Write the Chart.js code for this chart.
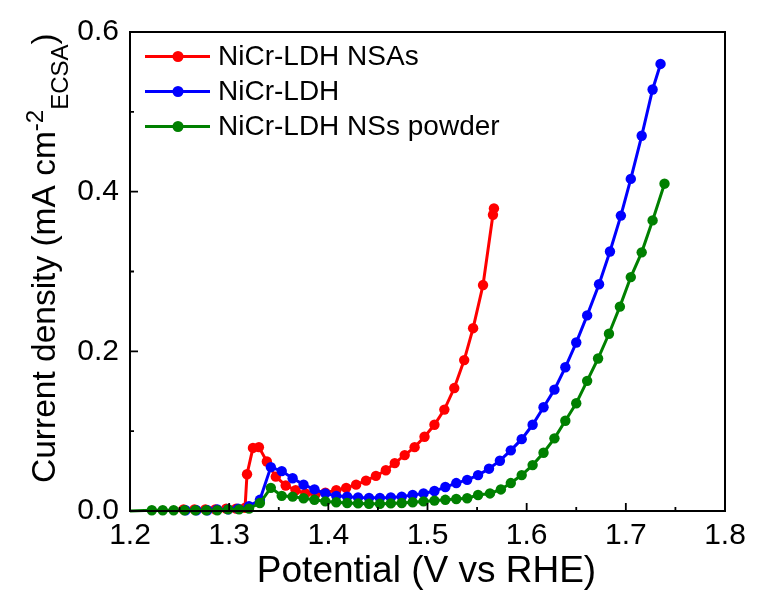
<!DOCTYPE html>
<html><head><meta charset="utf-8">
<script src="https://cdn.jsdelivr.net/npm/chart.js@4.4.1/dist/chart.umd.min.js"></script>
<style>html,body{margin:0;padding:0;background:#fff}canvas{display:block}</style>
</head><body>
<canvas id="c" width="757" height="608"></canvas>
<script>
// ---------- data ----------
const seriesLabels = ['NiCr-LDH NSAs', 'NiCr-LDH', 'NiCr-LDH NSs powder'];
const seriesColors = ['#ff0000', '#0000ff', '#008000'];

const nsasX = [1.254,1.265,1.276,1.286,1.297,1.307,1.316,1.318,1.324,1.330,1.338,1.347,1.357,1.367,1.377,1.387,1.397,1.408,1.418,1.428,1.438,1.448,1.458,1.467,1.477,1.487,1.497,1.507,1.517,1.527,1.537,1.546,1.556,1.566,1.567];
const nsasY = [0.002,0.002,0.002,0.002,0.003,0.003,0.004,0.046,0.079,0.080,0.062,0.043,0.032,0.026,0.022,0.021,0.023,0.026,0.029,0.033,0.038,0.044,0.051,0.060,0.070,0.080,0.093,0.108,0.127,0.154,0.189,0.229,0.283,0.371,0.379];

const ldhX = [1.256,1.267,1.278,1.288,1.299,1.309,1.320,1.331,1.342,1.353,1.364,1.375,1.386,1.397,1.408,1.419,1.430,1.441,1.452,1.463,1.474,1.485,1.496,1.507,1.518,1.529,1.540,1.551,1.562,1.573,1.584,1.595,1.606,1.617,1.628,1.639,1.650,1.661,1.673,1.684,1.695,1.705,1.716,1.727,1.735];
const ldhY = [0.001,0.001,0.001,0.002,0.002,0.003,0.006,0.014,0.055,0.050,0.041,0.033,0.027,0.022,0.019,0.018,0.017,0.0165,0.0165,0.017,0.018,0.020,0.022,0.025,0.030,0.035,0.039,0.045,0.053,0.063,0.076,0.090,0.108,0.130,0.152,0.180,0.211,0.245,0.284,0.325,0.370,0.416,0.470,0.528,0.560];

const powderX = [1.200,1.222,1.233,1.244,1.255,1.266,1.277,1.288,1.299,1.310,1.320,1.331,1.342,1.353,1.364,1.375,1.386,1.397,1.408,1.419,1.430,1.441,1.452,1.463,1.474,1.485,1.496,1.507,1.518,1.529,1.540,1.551,1.563,1.574,1.584,1.595,1.606,1.617,1.628,1.639,1.650,1.661,1.672,1.683,1.694,1.705,1.716,1.727,1.739];
const powderY = [0.000,0.001,0.001,0.001,0.001,0.001,0.001,0.001,0.002,0.002,0.003,0.010,0.029,0.019,0.018,0.016,0.014,0.012,0.011,0.010,0.0095,0.009,0.009,0.0095,0.010,0.011,0.012,0.013,0.014,0.015,0.016,0.020,0.022,0.027,0.035,0.045,0.0575,0.073,0.091,0.113,0.135,0.163,0.191,0.222,0.256,0.293,0.324,0.364,0.410];

const xTickValues = [1.2,1.3,1.4,1.5,1.6,1.7,1.8];
const yTickValues = [0.0,0.2,0.4,0.6];
const xTitle = 'Potential (V vs RHE)';
const yTitleParts = [
  {text: 'Current density (mA cm', kind: 'normal'},
  {text: '-2', kind: 'sup'},
  {text: 'ECSA', kind: 'sub'},
  {text: ')', kind: 'normal'}
];

// ---------- chart ----------
const FONT = '"Liberation Sans", Arial, sans-serif';
const zip = (xs, ys) => xs.map((v, i) => ({x: v, y: ys[i]}));
const seriesData = [zip(nsasX, nsasY), zip(ldhX, ldhY), zip(powderX, powderY)];
const drawOrder = [2, 1, 0];

const datasets = seriesData.map((d, i) => ({
  label: seriesLabels[i],
  data: d,
  borderColor: seriesColors[i],
  backgroundColor: seriesColors[i],
  pointBackgroundColor: seriesColors[i],
  pointBorderColor: seriesColors[i],
  borderWidth: 3,
  pointRadius: (c) => (i === 2 && c.dataIndex === 0) ? 0 : 5.2,
  pointBorderWidth: 0,
  tension: 0,
  clip: false,
  order: drawOrder[i]
}));

const decor = {
  id: 'decor',
  afterDraw(chart) {
    const {ctx, chartArea: a, scales: {x, y}} = chart;
    ctx.save();
    // frame
    ctx.strokeStyle = '#000';
    ctx.lineWidth = 2;
    ctx.strokeRect(a.left, a.top, a.right - a.left, a.bottom - a.top);
    // inward ticks
    ctx.lineWidth = 1.8;
    ctx.beginPath();
    xTickValues.forEach((v, i) => {
      const px = x.getPixelForValue(v);
      ctx.moveTo(px, a.bottom); ctx.lineTo(px, a.bottom - 8);
      if (i < xTickValues.length - 1) {
        const pm = x.getPixelForValue((v + xTickValues[i + 1]) / 2);
        ctx.moveTo(pm, a.bottom); ctx.lineTo(pm, a.bottom - 4);
      }
    });
    yTickValues.forEach((v, i) => {
      const py = y.getPixelForValue(v);
      ctx.moveTo(a.left, py); ctx.lineTo(a.left + 8, py);
      if (i < yTickValues.length - 1) {
        const pm = y.getPixelForValue((v + yTickValues[i + 1]) / 2);
        ctx.moveTo(a.left, pm); ctx.lineTo(a.left + 4, pm);
      }
    });
    ctx.stroke();

    // x title
    ctx.fillStyle = '#000';
    ctx.font = '37px ' + FONT;
    ctx.textAlign = 'center';
    ctx.textBaseline = 'middle';
    ctx.fillText(xTitle, (a.left + a.right) / 2 - 1, 572);

    // y title (rotated, with super/subscript)
    const S = 33.5, s = 24;
    const fontFor = k => (k === 'normal' ? S : s) + 'px ' + FONT;
    const offFor = k => k === 'sup' ? -11.5 : (k === 'sub' ? 13.5 : 0);
    ctx.save();
    ctx.translate(54.5, a.bottom - 28);
    ctx.rotate(-Math.PI / 2);
    ctx.textAlign = 'left';
    ctx.textBaseline = 'alphabetic';
    let cx = 0;
    yTitleParts.forEach(p => {
      ctx.font = fontFor(p.kind);
      ctx.fillText(p.text, cx, offFor(p.kind));
      cx += ctx.measureText(p.text).width;
    });
    ctx.restore();

    // legend
    ctx.font = '28px ' + FONT;
    ctx.textAlign = 'left';
    ctx.textBaseline = 'middle';
    seriesLabels.forEach((lab, i) => {
      const ly = 56.5 + i * 35;
      ctx.strokeStyle = seriesColors[i];
      ctx.lineWidth = 3;
      ctx.beginPath(); ctx.moveTo(145, ly); ctx.lineTo(210, ly); ctx.stroke();
      ctx.fillStyle = seriesColors[i];
      ctx.beginPath(); ctx.arc(178, ly, 5.5, 0, Math.PI * 2); ctx.fill();
      ctx.fillStyle = '#000';
      ctx.fillText(lab, 218, ly + 1);
    });
    ctx.restore();
  }
};

new Chart(document.getElementById('c'), {
  type: 'line',
  data: {datasets},
  options: {
    responsive: false,
    animation: false,
    events: [],
    layout: {padding: {left: 0, right: 32, top: 32, bottom: 0}},
    plugins: {legend: {display: false}, tooltip: {enabled: false}},
    scales: {
      x: {
        type: 'linear', min: 1.2, max: 1.8,
        afterBuildTicks: sc => { sc.ticks = xTickValues.map(v => ({value: v})); },
        afterFit: sc => { sc.height = 97; },
        grid: {display: false, drawTicks: false},
        border: {display: false},
        ticks: {color: '#000', font: {family: FONT, size: 30}, padding: 7,
                callback: v => Number(v).toFixed(1), maxRotation: 0, autoSkip: false}
      },
      y: {
        type: 'linear', min: 0, max: 0.6,
        afterBuildTicks: sc => { sc.ticks = yTickValues.map(v => ({value: v})); },
        afterFit: sc => { sc.width = 130; },
        grid: {display: false, drawTicks: false},
        border: {display: false},
        ticks: {color: '#000', font: {family: FONT, size: 30}, padding: 11,
                callback: v => Number(v).toFixed(1)}
      }
    }
  },
  plugins: [decor]
});
</script>
</body></html>
